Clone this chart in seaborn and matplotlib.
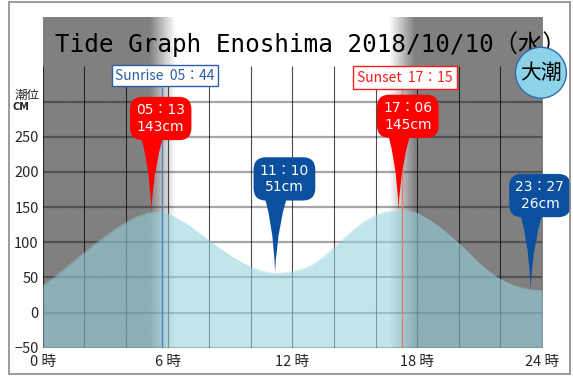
import numpy as np
import matplotlib
matplotlib.use('Agg')
import matplotlib.pyplot as plt
import seaborn as sns
from matplotlib.path import Path
from matplotlib.patches import PathPatch, Rectangle

# tide level, every 30 minutes (cm)
hours = [0, 0.5, 1, 1.5, 2, 2.5, 3, 3.5, 4, 4.5, 5, 5.5, 6, 6.5, 7, 7.5,
         8, 8.5, 9, 9.5, 10, 10.5, 11, 11.5, 12, 12.5, 13, 13.5, 14, 14.5,
         15, 15.5, 16, 16.5, 17, 17.5, 18, 18.5, 19, 19.5, 20, 20.5, 21,
         21.5, 22, 22.5, 23, 23.5, 24]
tide_cm = [38, 49, 61, 73, 85, 97, 108, 119, 128, 136, 141, 143, 140, 133,
           124, 113, 102, 91, 81, 72, 64, 59, 56, 56, 58, 62, 68, 79, 92,
           106, 119, 130, 138, 143, 145, 145, 141, 133, 123, 111, 98, 84,
           69, 57, 47, 40, 35, 32, 31]

peak_times = ['05:13', '11:10', '17:06', '23:27']
peak_levels = [143, 51, 145, 26]
peak_kinds = ['high', 'low', 'high', 'low']

sunrise = '05:44'
sunset = '17:15'
tide_name = '大潮'
title = 'Tide Graph Enoshima 2018/10/10（水）'

y_ticks = [-50, 0, 50, 100, 150, 200, 250]
x_ticks = [0, 6, 12, 18, 24]
x_tick_labels = ['0 時', '6 時', '12 時', '18 時', '24 時']


def to_hours(s):
    h, m = s.split(':')
    return int(h) + int(m) / 60


def wide(s):
    return s.replace(':', '：')


sns.set_style('white')
plt.rcParams['font.family'] = ['DejaVu Sans', 'Noto Sans CJK JP']

fig = plt.figure(figsize=(5.73, 3.76), dpi=100)
ax = fig.add_axes([0.0747, 0.0753, 0.8712, 0.8782])
y_top = 419.5
ax.set_xlim(0, 24)
ax.set_ylim(-50, y_top)
for s in ax.spines.values():
    s.set_visible(False)

# night / day background
sr, ss = to_hours(sunrise), to_hours(sunset)
xs = np.linspace(0, 24, 600)
shade = np.interp(xs, [0, sr - 0.62, sr + 0.62, ss - 0.62, ss + 0.62, 24],
                  [0.5, 0.5, 1, 1, 0.5, 0.5])
ax.imshow(shade[np.newaxis, :], extent=(0, 24, -50, y_top), aspect='auto',
          cmap='gray', vmin=0, vmax=1, zorder=0, interpolation='bilinear')

# grid
ax.hlines(np.arange(-50, 301, 50), 0, 24, color='black', alpha=0.35, lw=1.6, zorder=1)
ax.vlines(np.arange(0, 25, 2), -50, 350, color='black', alpha=0.7, lw=0.8, zorder=1)

# tide curve
fill_c = '#96d2e1'
ax.fill_between(hours, -50, tide_cm, color=fill_c, alpha=0.58, lw=0, zorder=2)
sns.lineplot(x=hours, y=tide_cm, ax=ax, color=fill_c, alpha=0.5, lw=0.6, zorder=2)

# sunrise / sunset
ax.vlines(sr, -50, 320, color='#4a7fc0', lw=0.9, zorder=3)
ax.vlines(ss, -50, 318, color='#e07a6a', lw=0.9, zorder=3)
ax.text(sr + 0.15, 337, f'Sunrise  {wide(sunrise)}', ha='center', va='center',
        color='#2a5ea8', fontsize=10, family=['Noto Sans CJK JP'], zorder=6,
        bbox=dict(boxstyle='square,pad=0.25', fc='white', ec='#2a5ea8', lw=1))
ax.text(ss + 0.15, 334, f'Sunset  {wide(sunset)}', ha='center', va='center',
        color='#ff1a1a', fontsize=10, family=['Noto Sans CJK JP'], zorder=6,
        bbox=dict(boxstyle='square,pad=0.3', fc='white', ec='#ff1a1a', lw=1))

# high / low tide balloons
for t, lev, kind in zip(peak_times, peak_levels, peak_kinds):
    tx = to_hours(t)
    ty = np.interp(tx, hours, tide_cm)
    hy = ty + 134
    col = '#ff0000' if kind == 'high' else '#0b4f9f'
    d = hy - ty
    verts = [(tx - 0.75, hy), (tx - 0.06, hy - 0.45 * d), (tx, ty),
             (tx + 0.1, hy - 0.45 * d), (tx + 0.85, hy), (tx - 0.75, hy)]
    codes = [Path.MOVETO, Path.CURVE3, Path.CURVE3, Path.CURVE3, Path.CURVE3,
             Path.CLOSEPOLY]
    ax.add_patch(PathPatch(Path(verts, codes), fc=col, ec='none', zorder=5))
    ax.text(tx + 0.45, hy, f'{wide(t)}\n{lev}cm', ha='center', va='center',
            color='white', fontsize=10, linespacing=1.25, zorder=6,
            bbox=dict(boxstyle='round,pad=0.45,rounding_size=0.9', fc=col, ec='none'))

# tide name badge
ax.text(23.95, 341, tide_name, ha='center', va='center', fontsize=15,
        family=['Noto Sans CJK JP'], color='black', zorder=7, clip_on=False,
        bbox=dict(boxstyle='circle,pad=0.22', fc='#8dd3e7', ec='#2f6eb5', lw=1))

ax.text(0.58, 370, title, ha='left', va='baseline', fontsize=17.5,
        family=['DejaVu Sans Mono', 'Noto Sans CJK JP'], color='black', zorder=4)

ax.set_yticks(y_ticks)
ax.set_xticks(x_ticks, x_tick_labels)
ax.tick_params(axis='both', length=0, labelsize=10.5)
ax.tick_params(axis='x', pad=5)
ax.tick_params(axis='y', pad=3)
for lab in ax.get_xticklabels() + ax.get_yticklabels():
    lab.set_fontfamily(['Noto Sans CJK JP'])

fig.text(27.5 / 573, 1 - 95 / 376, '潮位', ha='center', va='center', fontsize=9,
         family=['Noto Sans CJK JP'])
fig.text(21 / 573, 1 - 107 / 376, 'CM', ha='center', va='center', fontsize=7,
         weight='bold', family=['DejaVu Sans'])

fig.add_artist(Rectangle((9 / 573, 2 / 376), 561 / 573, 372 / 376,
                         transform=fig.transFigure, fill=False, ec='#8a8a8a', lw=1.2))

fig.savefig('out.png', dpi=100)
